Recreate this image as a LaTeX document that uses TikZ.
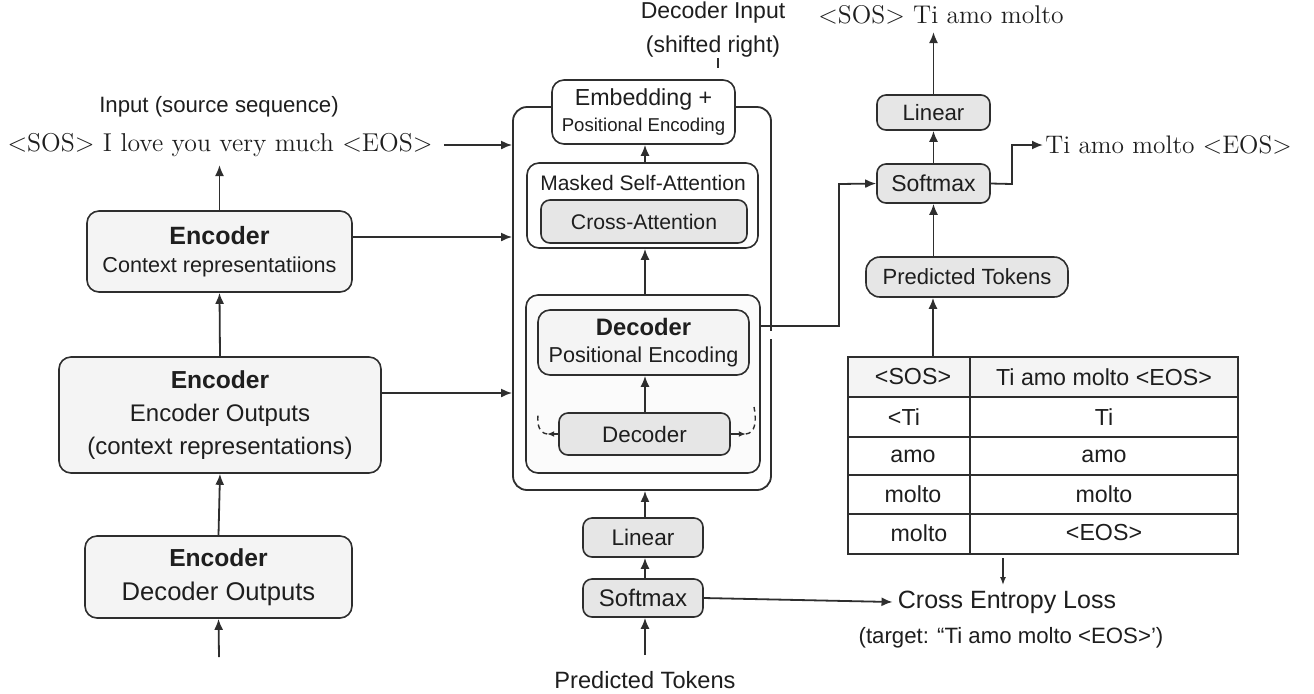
\documentclass[tikz,border=0pt]{standalone}
\usepackage{fontspec}
\setsansfont{Liberation Sans}
\usetikzlibrary{arrows.meta,calc}
\definecolor{lc}{HTML}{2E2E2E}
\definecolor{tc}{HTML}{1E1E1E}
\definecolor{fa}{HTML}{F4F4F4}
\definecolor{fb}{HTML}{E6E6E6}
\definecolor{fw}{HTML}{FBFBFB}
\newcommand{\fs}[2]{\fontsize{#1}{#2}\selectfont}
\begin{document}
\begin{tikzpicture}[x=0.5pt,y=-0.5pt,
  box/.style={draw=lc, line width=0.8pt, rounded corners=6pt, fill=fa, text=tc, font=\sffamily, align=center, inner sep=0pt},
  gbox/.style={box, fill=fb, rounded corners=4.5pt},
  conn/.style={draw=lc, line width=0.9pt, -{Latex[length=5.5pt,width=4.5pt]}},
  plain/.style={draw=lc, line width=0.8pt},
  txt/.style={text=tc, font=\sffamily, inner sep=1pt},
  ser/.style={text=tc, inner sep=1pt},
]
\useasboundingbox (0,0) rectangle (1314,693);

% ---------------- left column ----------------
\node[txt, font=\sffamily\fs{11.1}{13}] (inlbl) at (219,107) {Input (source sequence)};
\node[ser, font=\fs{12.9}{14}] (src) at (220,145) {<SOS> I love you very much <EOS>};

\node[box, minimum width=132.5pt, minimum height=40.5pt, font=\sffamily\fs{10.8}{14}] (enc1) at (219.5,251.5)
  {{\fs{12.5}{14}\bfseries Encoder}\\Context representatiions};
\node[box, minimum width=161pt, minimum height=58pt, font=\sffamily\fs{12}{16.5}] (enc2) at (220,415)
  {{\fs{12.3}{16.5}\bfseries Encoder}\\Encoder Outputs\\(context representations)};
\node[box, minimum width=133.5pt, minimum height=41pt, font=\sffamily\fs{12.8}{17}] (enc3) at (218.5,577)
  {{\fs{12.3}{17}\bfseries Encoder}\\Decoder Outputs};
\coordinate (encin) at (219,657);

% ---------------- middle column ----------------
\node[txt, font=\sffamily\fs{11.5}{13}] (dinl1) at (713,13) {Decoder Input};
\node[txt, font=\sffamily\fs{11.5}{13}] (dinl2) at (713,47) {(shifted right)};
\coordinate (tickA) at (718,58);
\coordinate (tickB) at (718,68);

\node[draw=lc, line width=0.9pt, rounded corners=7pt, fill=white, minimum width=129pt, minimum height=191.5pt, inner sep=0pt] (dec) at (642,298.5) {};
\draw[white, line width=2pt] (771,331) -- (771,339);
\node[box, fill=white, minimum width=91.5pt, minimum height=32pt, font=\sffamily\fs{9.3}{13}] (emb) at (643.5,112)
  {{\fs{11.6}{13}Embedding +}\\Positional Encoding};
\node[box, fill=white, minimum width=115.5pt, minimum height=42.5pt] (masked) at (642.5,205.5) {};
\node[txt, font=\sffamily\fs{10.5}{12}] (mskl) at (643,183) {Masked Self-Attention};
\node[gbox, minimum width=103pt, minimum height=21.5pt, font=\sffamily\fs{10.6}{12}] (cross) at (644,221.5) {Cross-Attention};

\node[box, fill=fw, minimum width=117pt, minimum height=89pt] (decblk) at (643,384) {};
\node[box, minimum width=105.5pt, minimum height=32.5pt, font=\sffamily\fs{10.8}{13.5}] (decbold) at (643.5,342.5)
  {{\fs{11.9}{13.5}\bfseries Decoder}\\Positional Encoding};
\node[gbox, minimum width=85.5pt, minimum height=21pt, font=\sffamily\fs{11.2}{13}] (decsm) at (644.5,434) {Decoder};

\node[gbox, minimum width=60pt, minimum height=19.5pt, font=\sffamily\fs{11.3}{13}] (lin1) at (643,537.5) {Linear};
\node[gbox, minimum width=60pt, minimum height=19pt, font=\sffamily\fs{12}{13}] (soft1) at (643,598) {Softmax};
\node[txt, font=\sffamily\fs{11.8}{13}] (pred1) at (645,680) {Predicted Tokens};
\coordinate (predin) at (645,655);

% ---------------- right column ----------------
\node[ser, font=\fs{12.8}{14}] (out1) at (941,15) {<SOS> Ti amo molto};
\node[gbox, minimum width=56.5pt, minimum height=17.5pt, font=\sffamily\fs{11.1}{13}] (lin2) at (933.5,112.5) {Linear};
\node[gbox, minimum width=56.5pt, minimum height=19.5pt, font=\sffamily\fs{11.5}{13}] (soft2) at (933.5,183.5) {Softmax};
\node[ser, font=\fs{12.7}{14}, anchor=west] (out2) at (1043,145) {Ti amo molto <EOS>};
\node[gbox, rounded corners=7pt, minimum width=101pt, minimum height=20pt, font=\sffamily\fs{11}{13}] (pred2) at (967,277) {Predicted Tokens};

% table
\fill[fa] (848,357) rectangle (1238,397);
\node[draw=lc, line width=0.9pt, minimum width=195pt, minimum height=98.5pt, inner sep=0pt] (tbl) at (1043,455.5) {};
\foreach \yy in {397,437,475,514} \draw[plain] (848,\yy) -- (1238,\yy);
\draw[plain] (970,357) -- (970,554);
\begin{scope}[every node/.style={txt, font=\sffamily\fs{11.6}{13}}]
\node (a1) at (913,377) {<SOS>};
\node (b1) at (1104,377) {Ti amo molto <EOS>};
\node (a2) at (904,417) {<Ti};
\node (b2) at (1104,417) {Ti};
\node (a3) at (913,456) {amo};
\node (b3) at (1104,456) {amo};
\node (a4) at (913,494) {molto};
\node (b4) at (1104,494) {molto};
\node (a5) at (919,533) {molto};
\node (b5) at (1104,533) {<EOS>};
\end{scope}
\coordinate (tbltop) at (933,357);
\coordinate (tblbot) at (1003,558);
\coordinate (tblarr) at (1003,585);

\node[txt, font=\sffamily\fs{12.5}{14}] (ce) at (1007,602) {Cross Entropy Loss};
\node[txt, font=\sffamily\fs{11.1}{13}] (tgt) at (1011,638) {(target: “Ti amo molto <EOS>’)};

% ---------------- connectors ----------------
\coordinate (srcA) at ($(src.east)+(9,0)$);
\coordinate (e1o) at ($(enc1.east)+(0,-14.5)$);
\coordinate (e2o) at ($(enc2.east)+(0,-22)$);
\coordinate (dbo) at ($(decblk.east)+(0,-58)$);
\draw[conn] (enc1.north) -- (enc1.north |- 0,165);
\draw[conn] (srcA) -- (srcA -| dec.west);
\draw[conn] (e1o) -- (e1o -| dec.west);
\draw[conn] (e2o) -- (e2o -| dec.west);
\draw[conn] (enc2.north) -- (enc1.south);
\draw[conn] (enc3.north) -- (enc2.south);
\draw[conn] (encin) -- (enc3.south);

\draw[plain] (tickA) -- (tickB);
\draw[conn] (masked.north -| 645,0) -- (emb.south -| 645,0);
\draw[conn] (decblk.north -| 645,0) -- (masked.south -| 645,0);
\draw[conn] (decsm.north -| 645,0) -- (decbold.south -| 645,0);
\draw[conn] (lin1.north -| 645,0) -- (dec.south -| 645,0);
\draw[conn] (soft1.north -| 645,0) -- (lin1.south -| 645,0);
\draw[conn] (predin) -- (soft1.south -| 645,0);
\draw[conn] (soft1.east) -- ($(ce.west)+(-3,0)$);

% loops around small decoder
\draw[draw=lc, line width=0.7pt, -{Latex[length=3.5pt,width=3pt]}] (decsm.west) -- ++(-11,0) coordinate (lpA);
\draw[draw=lc, line width=0.7pt, dashed, dash pattern=on 2.5pt off 2pt] (lpA) .. controls (539,433) and (537,424) .. (538,415);
\draw[draw=lc, line width=0.7pt, -{Latex[length=3.5pt,width=3pt]}] (decsm.east) -- ++(15,0) coordinate (lpB);
\draw[draw=lc, line width=0.7pt, dashed, dash pattern=on 2.5pt off 2pt] (lpB) .. controls (755,433) and (757,422) .. (754,407);

% decoder to right side
\draw[conn] (dbo) -- (839,326) -- (839,184) -- (soft2.west);
\draw[conn] (soft2.north) -- (lin2.south);
\draw[conn] (lin2.north) -- (lin2.north |- 0,32);
\draw[conn] (soft2.east) -- (1012,184) -- (1012,145) -- (out2.west);
\draw[conn] (tbltop) -- (tbltop |- pred2.south);
\draw[conn] (pred2.north -| soft2.south) -- (soft2.south);
\draw[draw=lc, line width=0.7pt, -{Latex[length=4pt,width=3pt]}] (tblbot) -- (tblarr);

\end{tikzpicture}
\end{document}
